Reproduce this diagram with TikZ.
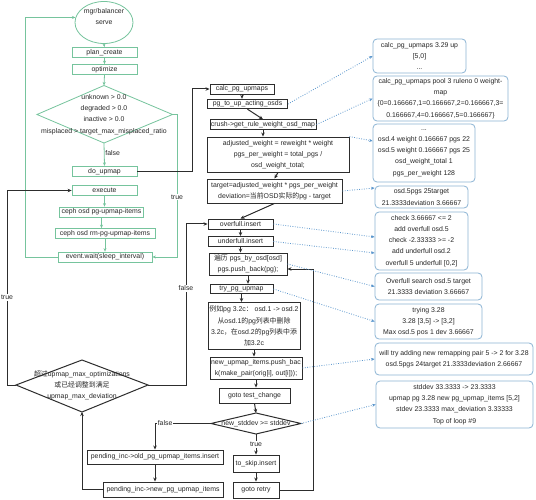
\documentclass[tikz,border=0pt]{standalone}
\usepackage{fontspec}
\setmainfont{Liberation Sans}
\newfontfamily\cjk{Noto Sans CJK SC}
\usetikzlibrary{arrows.meta,calc,shapes.geometric}
\definecolor{grn}{RGB}{118,196,157}
\definecolor{txt}{RGB}{40,40,40}
\definecolor{nb}{RGB}{140,180,212}
\definecolor{db}{RGB}{90,150,205}
\definecolor{bk}{RGB}{45,45,45}
\newcommand\zh[1]{{\cjk #1}}
\begin{document}
\begin{tikzpicture}[x=1pt,y=-1pt,
  font=\fontsize{6.9}{11.2}\selectfont,
  gbox/.style={draw=grn, line width=0.8pt, rectangle, inner sep=0pt, align=center, text=txt},
  bbox/.style={draw=bk, line width=0.9pt, rectangle, inner sep=0pt, align=center, text=txt},
  notebox/.style={draw=nb, line width=0.8pt, rounded corners=4pt, inner sep=0pt, align=center, text=txt},
  plain/.style={inner sep=0pt, align=center, text=txt},
  sz/.style 2 args={minimum width=#1pt, minimum height=#2pt},
  gline/.style={draw=grn, line width=0.8pt},
  garr/.style={draw=grn, line width=0.8pt, -{Stealth[length=3.5pt,width=3pt]}},
  bline/.style={draw=bk, line width=1pt},
  barr/.style={draw=bk, line width=1pt, -{Stealth[length=4pt,width=3.5pt]}},
  darr/.style={draw=db, line width=0.8pt, dash pattern=on 0.8pt off 1.6pt, -{Stealth[length=3.5pt,width=3pt]}},
  lbl/.style={fill=white, inner sep=1pt, text=txt}]
\fill[white] (0,0) rectangle (536,500);
\useasboundingbox (0,0) rectangle (536,500);

% ---------------- green part
\node[gbox, ellipse, sz={58}{42}] (serve) at (104,22.5) {mgr/balancer\\serve\\\mbox{}};
\node[gbox, sz={65}{10}] (plan) at (104.5,52.5) {plan\_create};
\node[gbox, sz={65}{10}] (opt) at (104.5,69.5) {optimize};
\coordinate (d1t) at (104,85.5);
\coordinate (d1r) at (172.5,114.5);
\coordinate (d1b) at (104,143);
\coordinate (d1l) at (37,114.5);
\draw[gline] (d1t) -- (d1r) -- (d1b) -- (d1l) -- cycle;
\node[plain] (d1) at (104,114.5) {unknown > 0.0\\degraded > 0.0\\inactive > 0.0\\misplaced > target\_max\_misplaced\_ratio};
\node[gbox, sz={65}{10.5}] (doup) at (104.5,171.5) {do\_upmap};
\node[gbox, sz={65}{10}] (exec) at (104.5,190.5) {execute};
\node[gbox, sz={84}{10}] (cpg) at (101.5,212) {ceph osd pg-upmap-items};
\node[gbox, sz={100}{10}] (crm) at (105,233.5) {ceph osd rm-pg-upmap-items};
\node[gbox, sz={94}{10}] (ev) at (105,257) {event.wait(sleep\_interval)};

\draw[garr] (serve.south) -- (plan.north);
\draw[garr] (plan.south) -- (opt.north);
\draw[garr] (opt.south) -- (d1t);
\draw[garr] (d1b) -- node[pos=0.43, anchor=west, inner sep=0.8pt, text=txt] {false} (doup.north);
\draw[garr] (exec.south) -- (exec.south |- cpg.north);
\draw[garr] (cpg.south) -- (cpg.south |- crm.north);
\draw[garr] (crm.south) -- (crm.south |- ev.north);
\draw[garr] (ev.west) -- ++(-32,0) |- (serve.170);
\draw[garr] (d1r) -- ++(4.5,0) coordinate (gr) -- node[lbl, pos=0.58] {true} (gr |- ev.east) -- (ev.east);

% ---------------- black part
\node[bbox, sz={64}{10}] (calc) at (242,89) {calc\_pg\_upmaps};
\node[bbox, sz={80}{9.5}] (pgto) at (247.5,104) {pg\_to\_up\_acting\_osds};
\node[bbox, sz={106}{9.5}] (crush) at (263,124.5) {crush->get\_rule\_weight\_osd\_map};
\node[bbox, sz={142}{35}] (adj) at (278,154.5) {adjusted\_weight = reweight * weight\\pgs\_per\_weight = total\_pgs /\\osd\_weight\_total;};
\node[bbox, sz={135}{24}] (target) at (274.5,191) {target=adjusted\_weight * pgs\_per\_weight\\deviation=\zh{当前}OSD\zh{实际的}pg - target};
\node[bbox, sz={65}{10}] (over) at (240.5,224) {overfull.insert};
\node[bbox, sz={65}{10}] (under) at (240.5,241.5) {underfull.insert};
\node[bbox, sz={78}{22}] (bianli) at (248,264) {\zh{遍历} pgs\_by\_osd[osd]\\pgs.push\_back(pg);};
\node[bbox, sz={63}{9.5}] (try) at (241.5,289) {try\_pg\_upmap};
\node[bbox, sz={92}{47}] (eg) at (254,326) {\zh{例如}pg 3.2c\zh{：} osd.1 -> osd.2\\\zh{从}osd.1\zh{的}pg\zh{列表中删除}\\3.2c\zh{，在}osd.2\zh{的}pg\zh{列表中添}\\\zh{加}3.2c};
\node[bbox, sz={92}{22}] (newup) at (256,368) {new\_upmap\_items.push\_bac\\k(make\_pair(orig[i], out[i]));};
\node[bbox, sz={71}{15}] (gotot) at (254.5,395.5) {goto test\_change};
\coordinate (d2t) at (256,413);
\coordinate (d2r) at (301,423.5);
\coordinate (d2b) at (256,434);
\coordinate (d2l) at (211,423.5);
\draw[bline] (d2t) -- (d2r) -- (d2b) -- (d2l) -- cycle;
\node[plain] (d2) at (256,423.5) {new\_stddev >= stddev};
\node[bbox, sz={46}{17}] (skip) at (256,463.5) {to\_skip.insert};
\node[bbox, sz={46}{16}] (retry) at (256,490) {goto retry};
\node[bbox, sz={136}{14}] (old) at (155,457) {pending\_inc->old\_pg\_upmap\_items.insert};
\node[bbox, sz={120}{15}] (newp) at (163,489.5) {pending\_inc->new\_pg\_upmap\_items};
\coordinate (d3t) at (82,360);
\coordinate (d3r) at (148,385);
\coordinate (d3b) at (82,412);
\coordinate (d3l) at (16,385);
\draw[bline] (d3t) -- (d3r) -- (d3b) -- (d3l) -- cycle;
\node[plain] (d3) at (82,385.5) {\zh{超过}upmap\_max\_optimizations\\\zh{或已经调整到满足}\\upmap\_max\_deviation};

\draw[barr] (doup.east) -- ++(55.5,0) |- (calc.west);
\draw[barr] (calc.south) -- (calc.south |- pgto.north);
\draw[barr] (pgto.south) -- (crush.north);
\draw[barr] (crush.south) -- (crush.south |- adj.north);
\draw[barr] (adj.south) -- (target.north);
\draw[barr] (target.south) -- (over.north);
\draw[barr] (over.south) -- (under.north);
\draw[barr] (under.south) -- (under.south |- bianli.north);
\draw[barr] (bianli.south) -- (bianli.south |- try.north);
\draw[barr] (try.south) -- (try.south |- eg.north);
\draw[barr] (eg.south) -- (eg.south |- newup.north);
\draw[barr] (newup.south) -- (newup.south |- gotot.north);
\draw[barr] (gotot.south) -- (d2t);
\draw[barr] (d2b) -- node[lbl] {true} (skip.north);
\draw[barr] (skip.south) -- (retry.north);
\draw[barr] (retry.east) -- ++(34,0) |- ($(bianli.east)+(0,5)$);
\draw[barr] (d2l) -| node[lbl, pos=0.41] {false} (old.north);
\draw[barr] (old.south) -- (old.south |- newp.north);
\draw[barr] (newp.west) -| (d3b);
\draw[barr] (d3l) -- ++(-9,0) coordinate (tl) -- node[lbl, pos=0.45] {true} (tl |- exec.west) -- (exec.west);
\draw[barr] (d3r) -- ++(38,0) coordinate (fr) -- node[lbl, pos=0.6] {false} (fr |- over.west) -- (over.west);

% ---------------- notes
\node[notebox, sz={93}{34}] (n1) at (419.5,56) {calc\_pg\_upmaps 3.29 up\\{[}5,0{]}\\...};
\node[notebox, sz={135}{45}] (n2) at (440.5,98.5) {calc\_pg\_upmaps pool 3 ruleno 0 weight-\\map\\\{0=0.166667,1=0.166667,2=0.166667,3=\\0.166667,4=0.166667,5=0.166667\}};
\node[notebox, sz={102}{58}] (n3) at (424,153) {...\\osd.4 weight 0.166667 pgs 22\\osd.5 weight 0.166667 pgs 25\\osd\_weight\_total 1\\pgs\_per\_weight 128};
\node[notebox, sz={93}{22}] (n4) at (421.5,197) {osd.5pgs 25target\\21.3333deviation 3.66667};
\node[notebox, sz={93}{58}] (n5) at (421.5,241) {check 3.66667 <= 2\\add overfull osd.5\\check -2.33333 >= -2\\add underfull osd.2\\overfull 5 underfull [0,2]};
\node[notebox, sz={107}{27}] (n6) at (428.5,286.5) {Overfull search osd.5 target\\21.3333 deviation 3.66667};
\node[notebox, sz={107}{35}] (n7) at (428.5,321.5) {trying 3.28\\3.28 [3,5] -> [3,2]\\Max osd.5 pos 1 dev 3.66667};
\node[notebox, sz={158}{32}] (n8) at (454,359) {will try adding new remapping pair 5 -> 2 for 3.28\\osd.5pgs 24target 21.3333deviation 2.66667};
\node[notebox, sz={157}{47}] (n9) at (454.5,404.5) {stddev 33.3333 -> 23.3333\\upmap pg 3.28 new pg\_upmap\_items [5,2]\\stdev 23.3333 max\_deviation 3.33333\\Top of loop \#9};

\draw[darr] (pgto.east) -- (n1.west);
\draw[darr] (crush.east) -- (n2.west);
\draw[darr] (adj.north east) -- ($(n3.west)+(0,-12)$);
\draw[darr] (target.east) -- ($(n4.west)+(0,-9)$);
\draw[darr] (over.east) -- ($(n5.west)+(0,-4)$);
\draw[darr] (under.east) -- ($(n5.west)+(0,12)$);
\draw[darr] (bianli.east) -- (n6.west);
\draw[darr] (try.east) -- (n7.west);
\draw[darr] (newup.east) -- (n8.west);
\draw[darr] (d2r) -- (n9.west);
\end{tikzpicture}
\end{document}
